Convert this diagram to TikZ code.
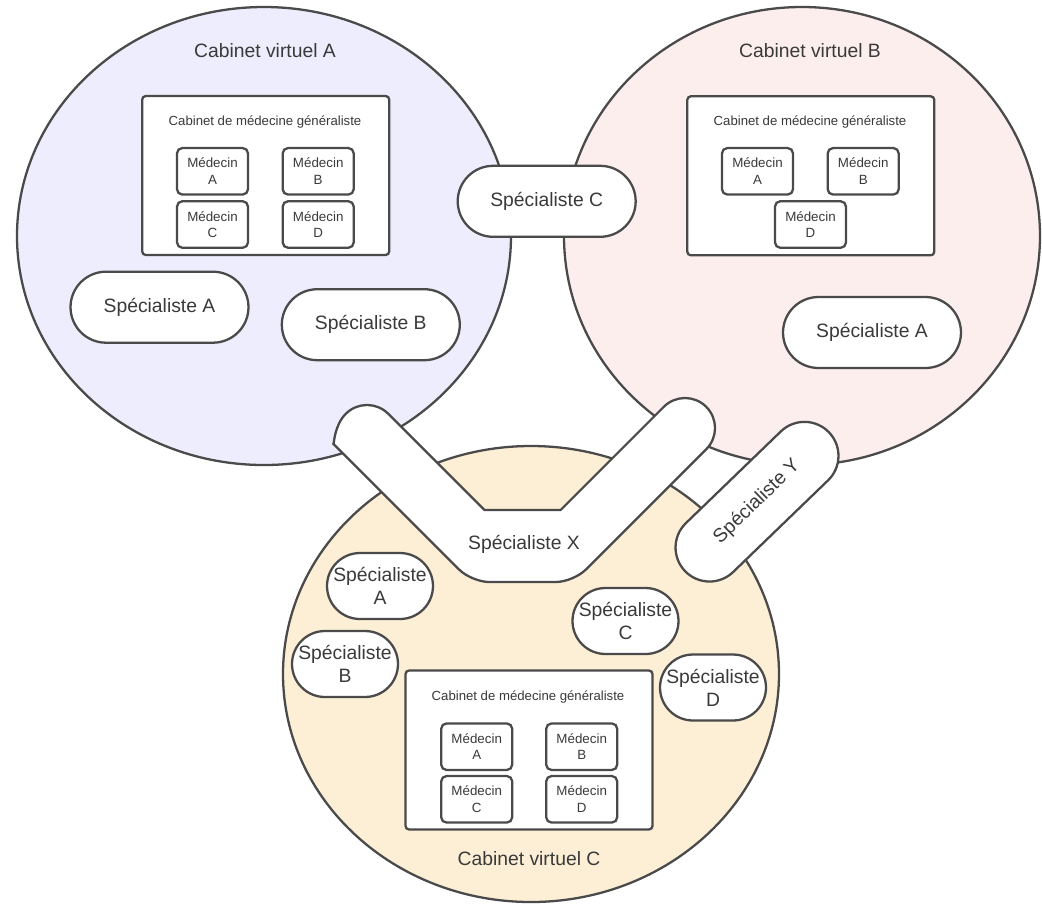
\documentclass[tikz,border=0pt]{standalone}
\usepackage{fontspec}
\setmainfont{Liberation Sans}
\usetikzlibrary{shapes.misc}
\definecolor{linegray}{HTML}{4A4A4A}
\definecolor{textgray}{HTML}{3A3A3A}
\definecolor{lavender}{HTML}{EDEDFD}
\definecolor{blush}{HTML}{FDEEEE}
\definecolor{cream}{HTML}{FCEFD5}
\tikzset{
	% ------- every something
	every path/.style={
		line width=1.3pt,
	},
	every node/.style={
		text=textgray,
	},
	% ------- custom
	virtual/.style={
		draw=linegray,
	},
	title/.style={
		font=\fontsize{11}{13}\selectfont,
	},
	caption/.style={
		font=\fontsize{7.5}{9}\selectfont,
	},
	practice/.style={
		draw=linegray, fill=white, rounded corners=2pt, inner sep=0pt,
		minimum width=4.94cm, minimum height=3.18cm,
	},
	doctor/.style={
		draw=linegray, fill=white, rounded corners=3pt, inner sep=0pt,
		minimum width=1.42cm, minimum height=0.93cm, align=center,
		font=\fontsize{7.6}{9.4}\selectfont,
	},
	specialist/.style={
		rounded rectangle, draw=linegray, fill=white, inner sep=0pt,
		minimum width=3.56cm, minimum height=1.42cm, align=center,
		font=\fontsize{11}{13.2}\selectfont,
	},
	small specialist/.style={
		specialist, minimum width=2.12cm, minimum height=1.32cm,
	},
}

\begin{document}
\begin{tikzpicture}[x=0.02cm, y=0.02cm]

	\useasboundingbox (0,0) rectangle (1042,-904);

% circles %{{{1

	\draw[virtual, fill=lavender] (264,-236) ellipse [x radius=247, y radius=229];
	\draw[virtual, fill=blush]    (802,-236) ellipse [x radius=238, y radius=229];
	\draw[virtual, fill=cream]    (531,-674) ellipse [x radius=248, y radius=228];

% cabinet virtuel A %{{{1

	\node[title] (va) at (265,-51) {Cabinet virtuel A};

	\node[practice] (gpa) at (265.7,-175.5) {};
	\node[caption] (gpa-t) at (265,-121.7) {Cabinet de médecine généraliste};
	\node[doctor] (gpa-a) at (212.5,-171.3) {Médecin\\A};
	\node[doctor] (gpa-b) at (318.2,-171.3) {Médecin\\B};
	\node[doctor] (gpa-c) at (212.5,-224.5) {Médecin\\C};
	\node[doctor] (gpa-d) at (318.2,-224.5) {Médecin\\D};

	\node[specialist] (sa-a) at (159.5,-307.2) {Spécialiste A};
	\node[specialist] (sa-b) at (370.8,-324.7) {Spécialiste B};

% cabinet virtuel B %{{{1

	\node[title] (vb) at (810,-51) {Cabinet virtuel B};

	\node[practice] (gpb) at (810.8,-175.8) {};
	\node[caption] (gpb-t) at (810,-121.7) {Cabinet de médecine généraliste};
	\node[doctor] (gpb-a) at (757.5,-171.3) {Médecin\\A};
	\node[doctor] (gpb-b) at (863.2,-171.3) {Médecin\\B};
	\node[doctor] (gpb-d) at (810.5,-224.5) {Médecin\\D};

	\node[specialist] (sb-a) at (872,-332.5) {Spécialiste A};

% cabinet virtuel C %{{{1

	\node[title] (vc) at (529,-859) {Cabinet virtuel C};

	\node[practice] (gpc) at (529,-750) {};
	\node[caption] (gpc-t) at (528,-696.7) {Cabinet de médecine généraliste};
	\node[doctor] (gpc-a) at (476.7,-746.7) {Médecin\\A};
	\node[doctor] (gpc-b) at (581.7,-746.7) {Médecin\\B};
	\node[doctor] (gpc-c) at (476.7,-799.3) {Médecin\\C};
	\node[doctor] (gpc-d) at (581.7,-799.3) {Médecin\\D};

	\node[small specialist] (sc-a) at (380,-586)   {Spécialiste\\A};
	\node[small specialist] (sc-b) at (345,-664)   {Spécialiste\\B};
	\node[small specialist] (sc-c) at (625.5,-621) {Spécialiste\\C};
	\node[small specialist] (sc-d) at (713,-687.5) {Spécialiste\\D};

% shared specialists %{{{1

	\node[specialist] (s-c) at (546.7,-201.3) {Spécialiste C};

	\draw[linegray, fill=white] (484.4,-510) -- (560.6,-510) -- (663.8,-406.8)
		arc[start angle=135, end angle=-45, radius=30]
		[rounded corners=10pt] -- (573.4,-582) -- (471.6,-582) -- (345.8,-456.2)
		[sharp corners] arc[start angle=225, end angle=45, radius=30] -- cycle;
	\node[title] (s-x) at (524,-544) {Spécialiste X};

	\node[specialist, rotate=44, minimum width=4cm, minimum height=1.36cm]
		(s-y) at (757,-501.7) {Spécialiste Y};

% closing %{{{1

\end{tikzpicture}
\end{document}
